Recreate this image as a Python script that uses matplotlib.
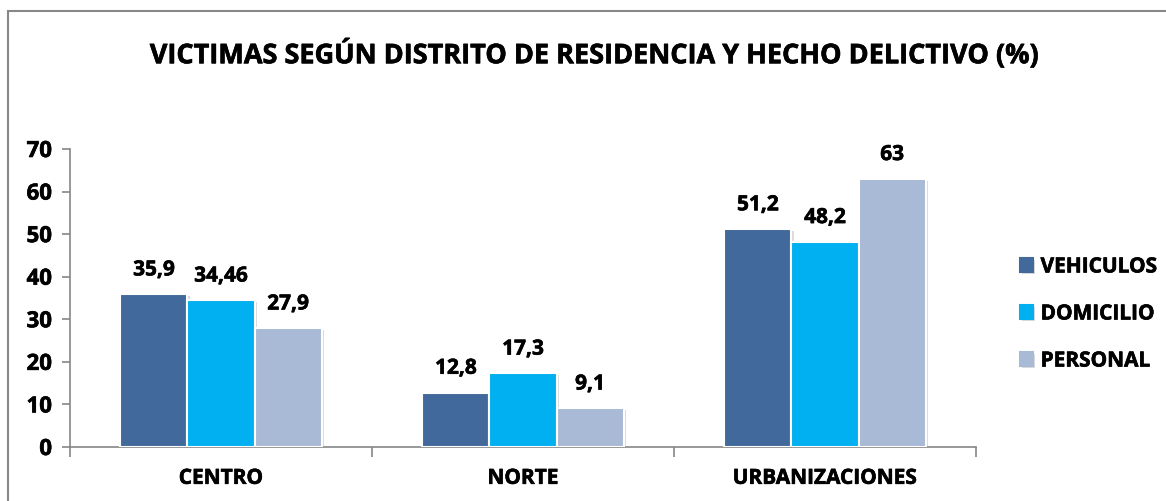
import matplotlib.pyplot as plt
import matplotlib.patheffects as pe
from matplotlib.patches import Rectangle
import numpy as np

plt.rcParams['font.family'] = ['Open Sans', 'DejaVu Sans']
plt.rcParams['font.weight'] = 'bold'

districts = ["CENTRO", "NORTE", "URBANIZACIONES"]
series = ["VEHICULOS", "DOMICILIO", "PERSONAL"]
vehiculos = [35.9, 12.8, 51.2]
domicilio = [34.46, 17.3, 48.2]
personal = [27.9, 9.1, 63]
colors = ["#41699B", "#00B0F0", "#A9BAD6"]

values = [vehiculos, domicilio, personal]

fig = plt.figure(figsize=(11.66, 5.02), dpi=100)
ax = fig.add_axes([70 / 1166, 54 / 502, 906 / 1166, 298 / 502])

# trazo fino para que el texto se vea tan grueso como en el original
heavy = [pe.withStroke(linewidth=0.45, foreground="black")]

x = np.arange(len(districts))
w = 0.222
shadow = [pe.SimplePatchShadow(offset=(1.5, -1.5), shadow_rgbFace="#999999", alpha=0.35), pe.Normal()]
bars_list = []
for i, vals in enumerate(values):
    pos = x + (i - 1) * w
    bars = ax.bar(pos, vals, width=w, color=colors[i], edgecolor="white", linewidth=1.5,
                  label=series[i], zorder=3)
    for b in bars:
        b.set_path_effects(shadow)
    bars_list.append(bars)
    for px, v in zip(pos, vals):
        txt = f"{v:g}".replace(".", ",")
        ax.annotate(txt, (px, v), xytext=(0, 13.5), textcoords="offset points",
                    ha="center", va="baseline", fontsize=15, fontweight="bold", color="#000000",
                    path_effects=heavy)

ax.set_xlim(-0.5, 2.5)
ax.set_ylim(0, 70)
ax.set_yticks(range(0, 71, 10))
ax.set_xticks(x)
ax.set_xticklabels(districts)
ax.set_xticks([-0.5, 0.5, 1.5, 2.5], minor=True)
ax.tick_params(axis="x", which="major", length=0, pad=15, labelsize=15)
ax.tick_params(axis="x", which="minor", length=7, color="#868686", width=1.2)
ax.tick_params(axis="y", length=6, color="#868686", width=1.2, labelsize=16, pad=7)
for lab in ax.get_xticklabels() + ax.get_yticklabels():
    lab.set_fontweight("bold")
    lab.set_path_effects(heavy)

for s in ["top", "right"]:
    ax.spines[s].set_visible(False)
for s in ["left", "bottom"]:
    ax.spines[s].set_color("#868686")
    ax.spines[s].set_linewidth(1.2)

fig.text(594 / 1166, 1 - 55 / 502, "VICTIMAS SEGÚN DISTRITO DE RESIDENCIA Y HECHO DELICTIVO (%)",
         ha="center", va="center", fontsize=19.5, fontweight="bold", path_effects=heavy)

leg = fig.legend(handles=bars_list, labels=series, loc="center left",
                 bbox_to_anchor=(1001 / 1166, 1 - 315 / 502), frameon=False,
                 fontsize=15, handlelength=0.65, handleheight=0.65, handletextpad=0.35,
                 labelspacing=1.25)
for t in leg.get_texts():
    t.set_fontweight("bold")
    t.set_path_effects(heavy)
for h in leg.legend_handles:
    h.set_edgecolor(h.get_facecolor())

fig.add_artist(Rectangle((8 / 1166, -0.1), 1.2, 1 - 12 / 502 + 0.1, transform=fig.transFigure,
                         fill=False, edgecolor="#888888", linewidth=1.5))

fig.savefig("out.png", dpi=100)
